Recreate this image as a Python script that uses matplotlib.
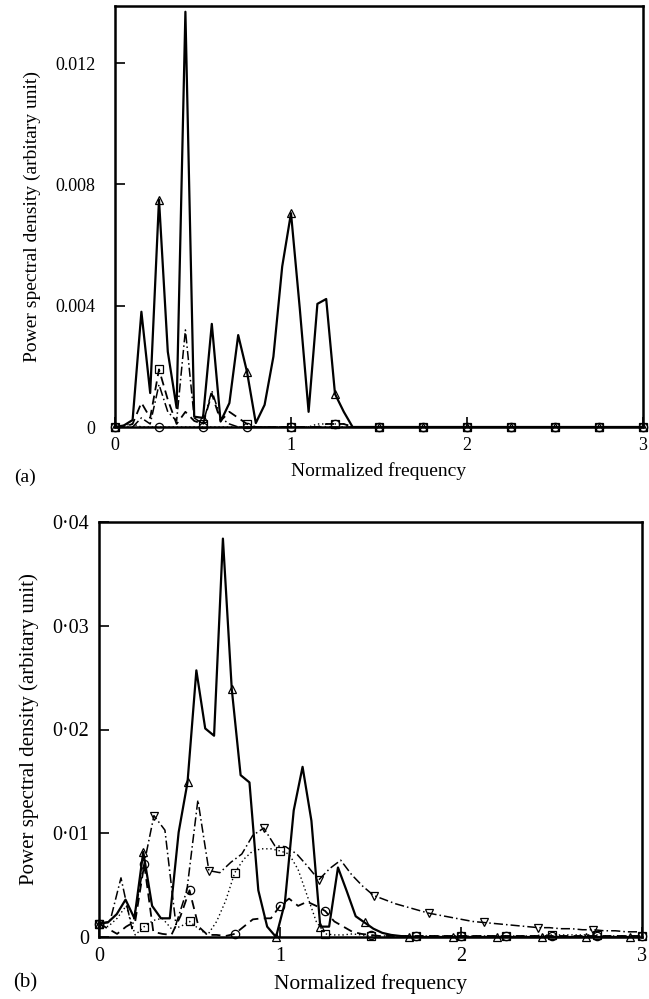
import matplotlib
matplotlib.use("Agg")
import matplotlib.pyplot as plt
import numpy as np

plt.rcParams['font.family'] = ['Liberation Serif', 'DejaVu Serif']

# ---- panel (a) data: frequency bins of 0.05 ----
step_a = 0.05
a_solid = [0, 0.00005, 0.00023, 0.0038, 0.00112, 0.0075, 0.00248, 0.00063, 0.01369, 0.00034,
           0.0003, 0.0034, 0.00018, 0.00079, 0.00303, 0.00182, 0.00013, 0.00073, 0.00232, 0.00529,
           0.00705, 0.0039, 0.0005, 0.00406, 0.00422, 0.00109, 0.0005, 0, 0, 0,
           0, 0, 0, 0, 0, 0, 0, 0, 0, 0,
           0, 0, 0, 0, 0, 0, 0, 0, 0, 0,
           0, 0, 0, 0, 0, 0, 0, 0, 0, 0, 0]
a_dashed = [0, 0, 0.0001, 0.0008, 0.0003, 0.0019, 0.0009, 0.0001, 0.0005, 0.0002,
            0.0001, 0.0011, 0.0002, 0.0005, 0.0003, 0.0001, 0, 0, 0, 0,
            0, 0, 0, 0, 0.0001, 0.0001, 0.0001, 0, 0, 0,
            0, 0, 0, 0, 0, 0, 0, 0, 0, 0,
            0, 0, 0, 0, 0, 0, 0, 0, 0, 0,
            0, 0, 0, 0, 0, 0, 0, 0, 0, 0, 0]
a_dashdot = [0, 0, 0, 0.0003, 0.0001, 0.0014, 0.0005, 0.0002, 0.0032, 0.0003,
             0.0001, 0.0012, 0.0003, 0.0001, 0, 0, 0, 0, 0, 0,
             0, 0, 0, 0, 0, 0, 0, 0, 0, 0,
             0, 0, 0, 0, 0, 0, 0, 0, 0, 0,
             0, 0, 0, 0, 0, 0, 0, 0, 0, 0,
             0, 0, 0, 0, 0, 0, 0, 0, 0, 0, 0]
a_dotted = [0, 0.00005, 0.0001, 0, 0, 0, 0, 0, 0, 0,
            0, 0, 0, 0, 0, 0, 0, 0, 0, 0,
            0, 0, 0, 0.0001, 0.0001, 0.0001, 0.0001, 0, 0, 0,
            0, 0, 0, 0, 0, 0, 0, 0, 0, 0,
            0, 0, 0, 0, 0, 0, 0, 0, 0, 0,
            0, 0, 0, 0, 0, 0, 0, 0, 0, 0, 0]

# ---- panel (b) data ----
step_b_tri = 0.0489
b_solid = [0.0013, 0.0014, 0.0022, 0.0036, 0.0018, 0.0082, 0.0030, 0.0018, 0.0018, 0.0101,
           0.0149, 0.0257, 0.0201, 0.0194, 0.0384, 0.0239, 0.0156, 0.0149, 0.0045, 0.0010,
           0.0000, 0.0033, 0.0122, 0.0164, 0.0112, 0.0010, 0.0010, 0.0067, 0.0044, 0.0020,
           0.0014, 0.0008, 0.0004, 0.0002, 0.0001, 0, 0, 0, 0, 0,
           0, 0, 0, 0, 0, 0, 0, 0, 0, 0,
           0, 0, 0, 0, 0, 0, 0, 0, 0, 0, 0, 0]
step_b_inv = 0.0607
b_dashdot = [0.0013, 0.0015, 0.0057, 0.0008, 0.0065, 0.0117, 0.0103, 0.0012, 0.0045, 0.0132,
             0.0064, 0.0062, 0.0072, 0.0080, 0.0098, 0.0105, 0.0088, 0.0087, 0.0080, 0.0068,
             0.0055, 0.0066, 0.0074, 0.0060, 0.0049, 0.0040, 0.0036, 0.0032, 0.0029, 0.0026,
             0.0023, 0.0021, 0.0019, 0.0017, 0.0015, 0.0014, 0.0013, 0.0012, 0.0011, 0.0010,
             0.0009, 0.0009, 0.0008, 0.0008, 0.0007, 0.0007, 0.0006, 0.0006, 0.0005, 0.0005]
step_b = 0.05
b_dotted = [0.0013, 0.0010, 0.0018, 0.0030, 0.0002, 0.0010, 0.0016, 0.0018, 0.0008, 0.0010,
            0.0015, 0.0008, 0.0002, 0.0015, 0.0035, 0.0062, 0.0075, 0.0083, 0.0085, 0.0085,
            0.0083, 0.0080, 0.0065, 0.0040, 0.0015, 0.0003, 0.0002, 0.0002, 0.0003, 0.0002,
            0.0001, 0.0001, 0.0001, 0.0001, 0.0001, 0.0001, 0.0001, 0.0001, 0.0001, 0.0001,
            0.0001, 0.0001, 0.0001, 0.0001, 0.0001, 0.0001, 0.0001, 0.0001, 0.0001, 0.0002,
            0.0002, 0.0002, 0.0002, 0.0002, 0.0002, 0.0002, 0.0001, 0.0001, 0.0001, 0.0001, 0.0001]
b_dashed = [0.0013, 0.0008, 0.0003, 0.0010, 0.0015, 0.0070, 0.0005, 0.0003, 0.0002, 0.0020,
            0.0045, 0.0010, 0.0002, 0.0002, 0.0001, 0.0003, 0.0010, 0.0017, 0.0018, 0.0018,
            0.0030, 0.0037, 0.0030, 0.0034, 0.0030, 0.0025, 0.0015, 0.0010, 0.0005, 0.0003,
            0.0002, 0.0001, 0.0001, 0.0001, 0.0001, 0.0001, 0.0001, 0.0001, 0.0001, 0.0001,
            0.0001, 0.0001, 0.0001, 0.0001, 0.0001, 0.0001, 0.0001, 0.0001, 0.0001, 0.0001,
            0.0001, 0.0001, 0.0001, 0.0001, 0.0001, 0.0001, 0.0001, 0.0001, 0.0001, 0.0001, 0.0001]

a_yticks = [0, 0.004, 0.008, 0.012]
a_ylabels = ['0', '0.004', '0.008', '0.012']
b_yticks = [0, 0.01, 0.02, 0.03, 0.04]
b_ylabels = ['0', '0·01', '0·02', '0·03', '0·04']
xticks = [0, 1, 2, 3]
ylabel = 'Power spectral density (arbitary unit)'
xlabel = 'Normalized frequency'


def freq(step, vals):
    return np.arange(len(vals)) * step


fig = plt.figure(figsize=(6.49, 9.99), dpi=100)
ax1 = fig.add_axes([115/649, 1 - 427/999, 528/649, 421/999])
ax2 = fig.add_axes([99/649, 1 - 937/999, 543/649, 415/999])

mk = dict(markerfacecolor='none', markeredgecolor='black', markersize=6,
          markeredgewidth=0.9, clip_on=False)

# panel (a)
ax1.plot(freq(step_a, a_dotted), a_dotted, color='black', lw=1.0, ls=(0, (1, 2)),
         marker='o', markevery=5, **mk)
ax1.plot(freq(step_a, a_dashdot), a_dashdot, color='black', lw=1.1, ls=(0, (6, 2, 1, 2)))
ax1.plot(freq(step_a, a_dashed), a_dashed, color='black', lw=1.3, ls=(0, (5, 3)),
         marker='s', markevery=5, **mk)
ax1.plot(freq(step_a, a_solid), a_solid, color='black', lw=1.6,
         marker='^', markevery=5, **mk)

# panel (b)
ax2.plot(freq(step_b, b_dotted), b_dotted, color='black', lw=1.0, ls=(0, (1, 2)),
         marker='s', markevery=5, **mk)
ax2.plot(freq(step_b, b_dashed), b_dashed, color='black', lw=1.3, ls=(0, (5, 3)),
         marker='o', markevery=5, **mk)
ax2.plot(freq(step_b_inv, b_dashdot), b_dashdot, color='black', lw=1.1, ls=(0, (6, 2, 1, 2)),
         marker='v', markevery=5, **mk)
ax2.plot(freq(step_b_tri, b_solid), b_solid, color='black', lw=1.6,
         marker='^', markevery=5, **mk)

for ax, yt, yl, fs in [(ax1, a_yticks, a_ylabels, 13), (ax2, b_yticks, b_ylabels, 14.5)]:
    ax.set_xlim(0, 3)
    ax.set_xticks(xticks)
    ax.set_xticklabels([str(t) for t in xticks])
    ax.set_yticks(yt)
    ax.set_yticklabels(yl)
    ax.tick_params(direction='in', length=7, width=1.2, labelsize=fs, pad=7)
    for s in ax.spines.values():
        s.set_linewidth(1.8)
    ax.set_xlabel(xlabel, fontsize=fs + 1, labelpad=6)

ax1.tick_params(axis='y', pad=14)
ax1.set_ylim(0, 0.01388)
ax2.set_ylim(0, 0.04)
ax1.set_ylabel(ylabel, fontsize=14, labelpad=10)
ax2.set_ylabel(ylabel, fontsize=15, labelpad=10)

fig.text(25/649, 1 - 477/999, '(a)', fontsize=14, ha='center', va='center')
fig.text(25/649, 1 - 983/999, '(b)', fontsize=15, ha='center', va='center')

fig.savefig('out.png', dpi=100)
